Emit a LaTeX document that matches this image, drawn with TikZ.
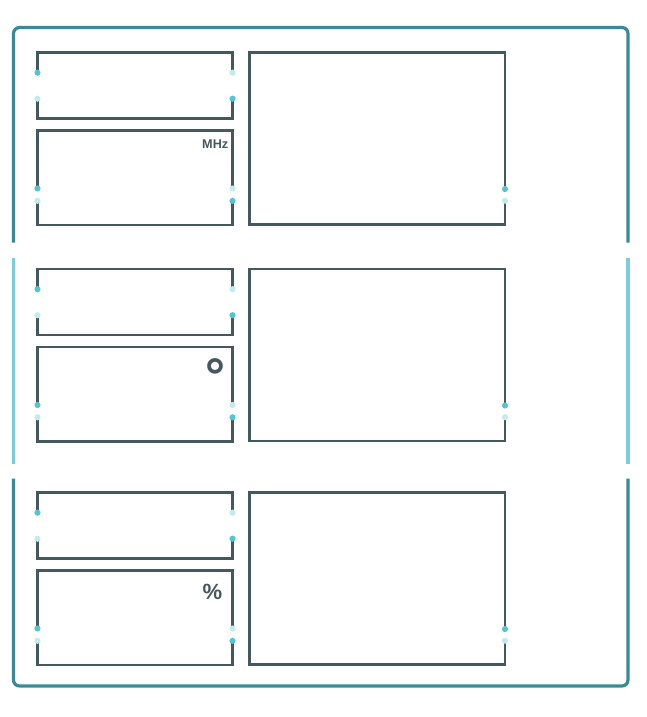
\documentclass[tikz,border=0pt]{standalone}
\usepackage{fontspec}
\setmainfont{Liberation Sans}
\newfontfamily\symfont{DejaVu Sans}
\definecolor{framedark}{HTML}{3B8996}
\definecolor{framelight}{HTML}{7CCDDB}
\definecolor{boxc}{HTML}{46575D}
\definecolor{pinbright}{HTML}{56C4CE}
\definecolor{pinfaint}{HTML}{C4EAEE}
\begin{document}
\begin{tikzpicture}[x=0.75pt,y=-0.75pt,
  panel/.style={draw=boxc, line width=1.6pt},
  outerline/.style={draw=framedark, line width=2.4pt, rounded corners=4.5pt},
  midline/.style={draw=framelight, line width=2.4pt},
  pinon/.style={fill=pinbright},
  pinoff/.style={fill=pinfaint},
  unit/.style={text=boxc, inner sep=0pt, font=\bfseries}]
\useasboundingbox (0,0) rectangle (646,717);
\fill[white] (0,0) rectangle (646,717);
% outer frame
\draw[outerline] (13.5,242.5) -- (13.5,27.5) -- (628,27.5) -- (628,242.5);
\draw[midline] (13.5,257.5) -- (13.5,463.5) (628,257.5) -- (628,463.5);
\draw[outerline] (13.5,478.5) -- (13.5,686) -- (628,686) -- (628,478.5);
% three sections
\foreach \o in {0,216.5,440}{
  % small upper box
  \draw[panel] (37.5,72.7+\o) -- (37.5,52.5+\o) -- (232.5,52.5+\o) -- (232.5,72.7+\o);
  \draw[panel] (37.5,98.7+\o) -- (37.5,118.5+\o) -- (232.5,118.5+\o) -- (232.5,98.7+\o);
  % lower box
  \draw[panel] (37.5,188.5+\o) -- (37.5,130.5+\o) -- (232.5,130.5+\o) -- (232.5,188.5+\o);
  \draw[panel] (37.5,200.8+\o) -- (37.5,225+\o) -- (232.5,225+\o) -- (232.5,200.8+\o);
  % big box
  \draw[panel] (505,189+\o) -- (505,52.5+\o) -- (249.5,52.5+\o) -- (249.5,224.5+\o) -- (505,224.5+\o) -- (505,200.7+\o);
  % pins
  \fill[pinon]  (37.5,72.7+\o) circle[radius=2.3pt];
  \fill[pinoff] (37.5,98.7+\o) circle[radius=2.3pt];
  \fill[pinoff] (232.5,72.7+\o) circle[radius=2.3pt];
  \fill[pinon]  (232.5,98.7+\o) circle[radius=2.3pt];
  \fill[pinon]  (37.5,188.5+\o) circle[radius=2.3pt];
  \fill[pinoff] (37.5,200.8+\o) circle[radius=2.3pt];
  \fill[pinoff] (232.5,188.5+\o) circle[radius=2.3pt];
  \fill[pinon]  (232.5,200.8+\o) circle[radius=2.3pt];
  \fill[pinon]  (505,189+\o) circle[radius=2.3pt];
  \fill[pinoff] (505,200.7+\o) circle[radius=2.3pt];
}
% unit labels
\node[unit, anchor=east, font=\bfseries\fontsize{9.5}{9.5}\selectfont] (mhz) at (228.5,144.5) {MHz};
\node[unit, anchor=base, font=\symfont\bfseries\fontsize{36}{36}\selectfont] (deg) at (215,394.5) {°};
\node[unit, anchor=center, font=\bfseries\fontsize{16.5}{16.5}\selectfont] (pct) at (212.5,591.5) {\%};
\end{tikzpicture}
\end{document}
